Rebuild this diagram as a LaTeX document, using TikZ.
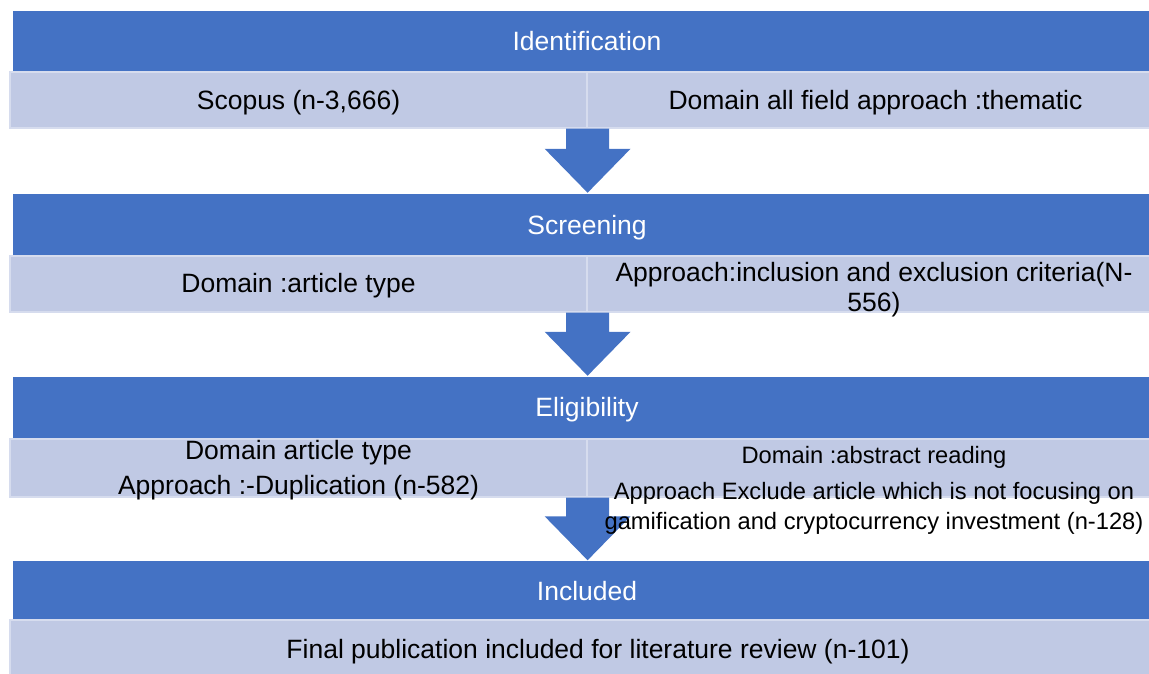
\documentclass[tikz,border=0pt]{standalone}
\usepackage{fontspec}
\setmainfont{Liberation Sans}
\usetikzlibrary{calc}
\definecolor{hdrblue}{HTML}{4472C4}
\definecolor{cellblue}{RGB}{192,201,228}
\definecolor{celledge}{RGB}{214,220,238}
\tikzset{
  hdr/.style={fill=hdrblue, draw=white, line width=0.5pt, minimum width=1150pt,
    inner sep=0pt, text=white, font=\fontsize{26.5}{30}\selectfont,
    text height=19pt, text depth=0pt},
  cell/.style={fill=cellblue, draw=celledge, line width=1.2pt, minimum width=577pt, inner sep=0pt},
  lbl/.style={inner sep=0pt, font=\fontsize{26.5}{30}\selectfont, text height=19pt, text depth=0pt},
  small/.style={inner sep=0pt, font=\fontsize{23.7}{28}\selectfont, text height=17pt, text depth=0pt},
  blockarrow/.style={fill=hdrblue, draw=none},
}
\newcommand{\blockarr}[2]{%
  \path[blockarrow] let \p1=(#1), \p2=(#2) in
    (\x1-21.5pt,\y1) -- (\x1+21.5pt,\y1) -- (\x1+21.5pt,\y2+44pt) -- (\x1+43pt,\y2+44pt)
    -- (\x1,\y2) -- (\x1-43pt,\y2+44pt) -- (\x1-21.5pt,\y2+44pt) -- cycle;}
\begin{document}
\begin{tikzpicture}[x=1pt,y=-1pt]
\useasboundingbox (0,0) rectangle (1149,673);
\clip (0,0) rectangle (1149,673);

% stage headers
\node[hdr, minimum height=62pt] (idh)  at (587,41)    {Identification};
\node[hdr, minimum height=63pt] (scrh) at (587,224.5) {Screening};
\node[hdr, minimum height=62pt] (elih) at (587,407)   {Eligibility};
\node[hdr, minimum height=60pt] (inch) at (587,590.5) {Included};

% light rows
\node[cell, minimum height=56pt] (idL)  at (298.5,100) {};
\node[cell, minimum height=56pt] (idR)  at (875.5,100) {};
\node[cell, minimum height=56pt] (scrL) at (298.5,284) {};
\node[cell, minimum height=56pt] (scrR) at (875.5,284) {};
\node[cell, minimum height=58pt] (eliL) at (298.5,468) {};
\node[cell, minimum height=58pt] (eliR) at (875.5,468) {};
\node[cell, minimum height=58pt, minimum width=1154pt] (incR) at (587,649) {};

% block arrows
\coordinate (a1) at ($(idL.south east)$);
\coordinate (a2) at ($(scrL.south east)$);
\coordinate (a3) at ($(eliL.south east)$);
\blockarr{a1}{scrh.north}
\blockarr{a2}{elih.north}
\blockarr{a3}{inch.north}

% texts
\node[lbl] (t1) at (idL) {Scopus (n-3,666)};
\node[lbl] (t2) at (idR) {Domain all field approach :thematic};
\node[lbl] (t3) at (298.5,283) {Domain :article type};
\node[lbl] (t4) at (874,272) {Approach:inclusion and exclusion criteria(N-};
\node[lbl] (t5) at (874,302) {556)};
\node[lbl] (t6) at (298.5,450) {Domain article type};
\node[lbl] (t7) at (298.5,485) {Approach :-Duplication (n-582)};
\node[small] (t8) at (874,455) {Domain :abstract reading};
\node[small] (t9) at (874,491) {Approach Exclude article which is not focusing on};
\node[small] (t10) at (874,521) {gamification and cryptocurrency investment (n-128)};
\node[lbl] (t11) at (598,649) {Final publication included for literature review (n-101)};
\end{tikzpicture}
\end{document}
